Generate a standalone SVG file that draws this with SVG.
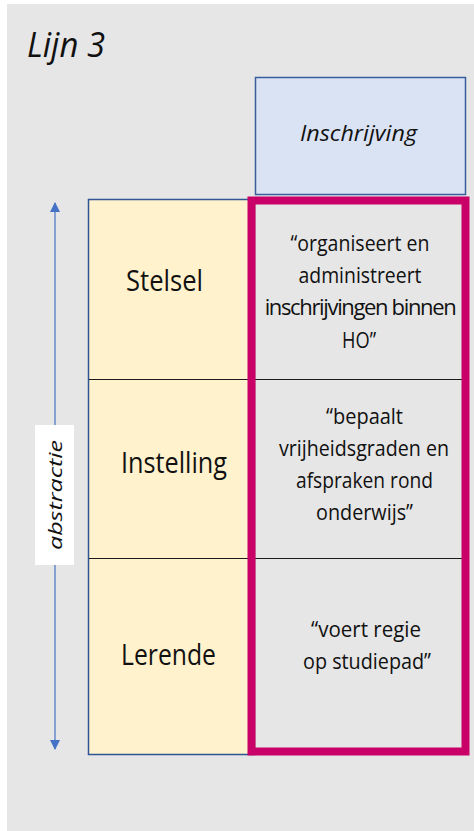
<svg xmlns="http://www.w3.org/2000/svg" width="474" height="831" viewBox="0 0 474 831">
<style>
.t{font-family:"Open Sans","Noto Sans","Liberation Sans",sans-serif;fill:#111;text-anchor:middle}
.r{font-size:22px}
.l{font-size:29px}
.i{font-style:italic}
.div{stroke:#1a1a1a;stroke-width:1}
</style>
<defs>
<marker id="ah" viewBox="0 0 10 10" refX="9" refY="5" markerWidth="10" markerHeight="11" markerUnits="userSpaceOnUse" orient="auto">
<path d="M0,0 L10,5 L0,10 Z" fill="#4472c4"/>
</marker>
</defs>
<rect x="0" y="0" width="474" height="831" fill="#ffffff"/>
<rect x="7" y="4" width="467" height="827" fill="#e6e6e6"/>
<text class="t i" x="27" y="57" font-size="34" textLength="78" lengthAdjust="spacingAndGlyphs" style="text-anchor:start">Lijn 3</text>

<g id="header">
<rect x="255.5" y="77.5" width="210" height="117" fill="#dae3f3" stroke="#3a5d9c" stroke-width="1.5"/>
<text class="t i" x="358.5" y="141" font-size="21" textLength="117" lengthAdjust="spacingAndGlyphs">Inschrijving</text>
</g>

<g id="levels">
<rect x="88.5" y="199.5" width="166" height="555" fill="#fff2cc" stroke="#2f5597" stroke-width="1.5"/>
<rect x="255" y="200" width="208" height="552" fill="#e6e6e6" stroke="#8c8c8c" stroke-width="0.8"/>
<line class="div" x1="89" y1="379.5" x2="462" y2="379.5"/>
<line class="div" x1="89" y1="558.5" x2="462" y2="558.5"/>
</g>

<g id="stelsel">
<text class="t l" x="164.5" y="291" textLength="77" lengthAdjust="spacingAndGlyphs">Stelsel</text>
<text class="t r" x="360" y="251" textLength="139" lengthAdjust="spacingAndGlyphs">“organiseert en</text>
<text class="t r" x="360" y="283" textLength="123" lengthAdjust="spacingAndGlyphs">administreert</text>
<text class="t r" x="360" y="315" style="letter-spacing:-1.35px">inschrijvingen binnen</text>
<text class="t r" x="359" y="348" textLength="34" lengthAdjust="spacingAndGlyphs">HO”</text>
</g>

<g id="instelling">
<text class="t l" x="174" y="473" textLength="106" lengthAdjust="spacingAndGlyphs">Instelling</text>
<text class="t r" x="364.5" y="424" textLength="77" lengthAdjust="spacingAndGlyphs">“bepaalt</text>
<text class="t r" x="364" y="456" textLength="170" lengthAdjust="spacingAndGlyphs">vrijheidsgraden en</text>
<text class="t r" x="364.5" y="488" textLength="137" lengthAdjust="spacingAndGlyphs">afspraken rond</text>
<text class="t r" x="364.5" y="520" textLength="97" lengthAdjust="spacingAndGlyphs">onderwijs”</text>
</g>

<g id="lerende">
<text class="t l" x="168.5" y="665" textLength="95" lengthAdjust="spacingAndGlyphs">Lerende</text>
<text class="t r" x="366" y="637" textLength="110" lengthAdjust="spacingAndGlyphs">“voert regie</text>
<text class="t r" x="367" y="669" textLength="128" lengthAdjust="spacingAndGlyphs">op studiepad”</text>
</g>

<g id="highlight">
<rect x="251.5" y="200.5" width="214" height="551" fill="none" stroke="#c80067" stroke-width="8"/>
</g>

<g id="connectors">
<line x1="55" y1="476" x2="55" y2="203" stroke="#4472c4" stroke-width="1.2" marker-end="url(#ah)"/>
<line x1="55" y1="476" x2="55" y2="749" stroke="#4472c4" stroke-width="1.2" marker-end="url(#ah)"/>
</g>

<g id="abstractie">
<rect x="35" y="425" width="39" height="140" fill="#ffffff"/>
<text class="t i" x="0" y="0" font-size="19" transform="translate(62,495) rotate(-90)" textLength="110" lengthAdjust="spacingAndGlyphs">abstractie</text>
</g>
</svg>
